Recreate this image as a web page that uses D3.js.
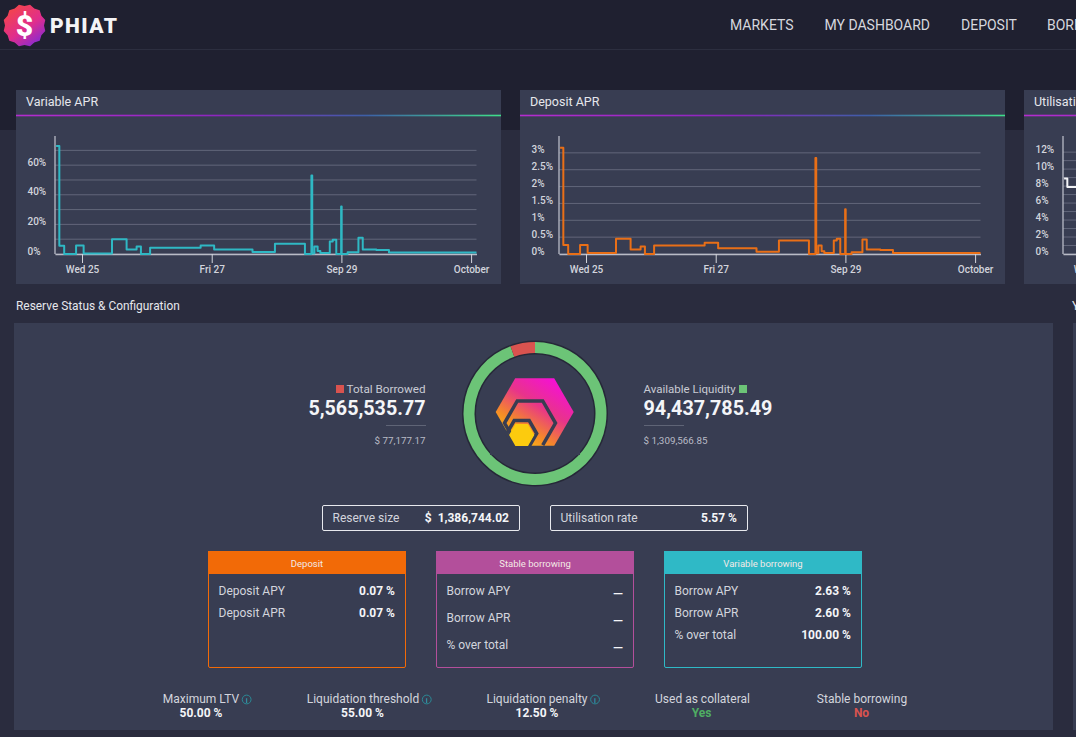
<!DOCTYPE html>
<html><head><meta charset="utf-8">
<script src="https://cdn.jsdelivr.net/npm/d3@7/dist/d3.min.js"></script>
<style>
html,body{margin:0;padding:0;background:#1f2030;overflow:hidden}
svg{display:block}
text{font-family:Roboto,"Liberation Sans",sans-serif}
</style></head><body><svg id="c" width="1076" height="737"></svg>
<script>
const navLabels = ["MARKETS","MY DASHBOARD","DEPOSIT","BORROW"];
const tickDates = ["2024-09-25","2024-09-27","2024-09-29","2024-10-01"];
const hoursFromSep25 = [-9.6,-8.4,-6.6,-2.2,0.6,11.1,16.5,20.2,21.8,25.2,43.9,48.9,63.1,71.4,82.5,84.9,85.2,86.0,87.2,88.2,91.7,92.8,94.1,95.9,96.1,98.3,102.3,103.9,108.9,113.6,146.0];
const variableApr = [73,5.6,0,5.8,0.4,10,3,5,0,4.2,5.8,3.1,1.3,7,0,53,0.3,5,2,0.6,8.5,9.6,0,32,0,1.1,11,3.1,2.7,1,1];
const depositApr = [3.15,0.27,0,0.27,0.03,0.45,0.13,0.22,0,0.25,0.33,0.17,0.07,0.4,0,2.85,0.02,0.25,0.08,0.03,0.4,0.45,0,1.33,0,0.05,0.43,0.13,0.12,0.03,0.03];
const utilHours = [-9.6,-8.4,0];
const utilisation = [8.9,7.9,7.9];
const aprTicks = [0,20,40,60], aprGrid = [0,10,20,30,40,50,60,70];
const depTicks = [0,0.5,1,1.5,2,2.5,3];
const utilTicks = [0,2,4,6,8,10,12], utilGrid = [0,1,2,3,4,5,6,7,8,9,10,11,12];
const donutValues = [94437785.49,5565535.77];
const reserveRows = [["Reserve size","$  1,386,744.02"],["Utilisation rate","5.57 %"]];
const cardTitles = ["Deposit","Stable borrowing","Variable borrowing"];
const cardLabels = [["Deposit APY","Deposit APR"],["Borrow APY","Borrow APR","% over total"],["Borrow APY","Borrow APR","% over total"]];
const cardValues = [["0.07 %","0.07 %"],["—","—","—"],["2.63 %","2.60 %","100.00 %"]];
const footLabels = ["Maximum LTV","Liquidation threshold","Liquidation penalty","Used as collateral","Stable borrowing"];
const footValues = ["50.00 %","55.00 %","12.50 %","Yes","No"];

const PANEL="#383d52", TXT="#d9dbe3", WHITE="#f4f5f8";
const svg=d3.select("#c");
const defs=svg.append("defs");
function lg(id,x1,y1,x2,y2,stops,units){
  const g=defs.append("linearGradient").attr("id",id).attr("x1",x1).attr("y1",y1).attr("x2",x2).attr("y2",y2);
  if(units)g.attr("gradientUnits",units);
  stops.forEach(s=>g.append("stop").attr("offset",s[0]).attr("stop-color",s[1]));
}
lg("bar","0","0","1","0",[[0,"#b52ccf"],[0.45,"#8a26bd"],[0.72,"#3d5fa8"],[1,"#3fe08a"]]);
lg("hex",562,376,514,450,[[0,"#f808e6"],[0.42,"#e8348a"],[0.72,"#f58a28"],[1,"#fdd207"]],"userSpaceOnUse");
lg("logo",0.2,0.1,0.8,0.95,[[0,"#f2434f"],[0.55,"#e02d8d"],[1,"#8a2bd0"]]);
const rect=(x,y,w,h,f)=>svg.append("rect").attr("x",x).attr("y",y).attr("width",w).attr("height",h).attr("fill",f);
function t(x,y,s,o={}){return svg.append("text").attr("x",x).attr("y",y).text(s)
  .attr("font-size",o.size||12).attr("fill",o.fill||TXT).attr("font-weight",o.weight||400)
  .attr("text-anchor",o.anchor||"start");}

// page background
rect(0,0,1076,737,"#1f2030");
rect(0,130,1076,607,"#2a2c3e");
rect(0,49,1076,1,"#2c2e3f");

// header
const lc=[24.5,25.5];
svg.append("path").attr("d",d3.range(0,24).map(i=>{const a=i*Math.PI/12,r=i%2?21.5:19.5;return (i?"L":"M")+(lc[0]+r*Math.cos(a))+","+(lc[1]+r*Math.sin(a));}).join("")+"Z").attr("fill","url(#logo)");
t(lc[0],lc[1]+10,"$",{size:30,weight:900,fill:"#fff",anchor:"middle"});
t(50,33,"PHIAT",{size:21,weight:900,fill:"#f4f4f6"}).attr("letter-spacing",1.4);
const navX=[730,824.5,961,1047];
navLabels.forEach((n,i)=>t(navX[i],30,n,{size:14,fill:"#d6d7de"}));

// line panels
const epoch=new Date("2024-09-25").getTime();
const hourDate=h=>new Date(epoch+h*3600000);
function linePanel(px,title,hours,vals,ymax,gridV,tickV,fmt,color,axisX){
  rect(px,90,485,194,PANEL);
  rect(px,114.7,485,1.6,"url(#bar)");
  t(px+10,106,title,{size:12.5,fill:"#e6e7ec"});
  const zero=254;
  const x=d3.scaleUtc().domain([hourDate(-10),hourDate(146)]).range([axisX,axisX+421.5]);
  const y=d3.scaleLinear().domain([0,ymax]).range([zero,zero-118]);
  const g=svg.append("g");
  g.selectAll("line.g").data(gridV).join("line").attr("x1",axisX).attr("x2",axisX+421.5)
    .attr("y1",d=>y(d)).attr("y2",d=>y(d)).attr("stroke","#62667a").attr("stroke-width",1);
  const xa=g.append("g").attr("transform",`translate(0,${zero})`).call(d3.axisBottom(x).tickValues(tickDates.map(d=>new Date(d))).tickSizeInner(9).tickSizeOuter(0).tickPadding(3).tickFormat(x.tickFormat()));
  xa.select(".domain").attr("stroke","#b9bbc6").attr("stroke-width",1.3);
  xa.selectAll("line").attr("stroke","#d4d5dc");
  xa.selectAll("text").attr("fill","#d2d4dc").attr("font-size",10).attr("font-weight",500).attr("font-family","Roboto");
  const ya=g.append("g").attr("transform",`translate(${axisX},0)`).call(d3.axisLeft(y).tickValues(tickV).tickSize(0).tickPadding(0).tickFormat(fmt));
  ya.select(".domain").attr("stroke","#b9bbc6").attr("stroke-width",1.3).attr("d",`M0,${zero}V${zero-118}`);
  ya.selectAll("text").attr("fill","#d2d4dc").attr("font-size",10).attr("font-weight",500).attr("font-family","Roboto")
    .attr("text-anchor","start").attr("x",-27.5).attr("dy","0");
  const line=d3.line().x(d=>x(hourDate(d[0]))).y(d=>y(d[1])).curve(d3.curveStepAfter);
  g.append("path").datum(hours.map((h,i)=>[h,vals[i]])).attr("d",line).attr("fill","none")
    .attr("stroke",color).attr("stroke-width",2).attr("stroke-linejoin","round");
}
linePanel(16,"Variable APR",hoursFromSep25,variableApr,79.7,aprGrid,aprTicks,d=>d+"%","#2fb8c4",55);
linePanel(520,"Deposit APR",hoursFromSep25,depositApr,3.5,depTicks,depTicks,d=>d+"%","#e96f17",559);
linePanel(1024,"Utilisation",utilHours,utilisation,13.9,utilGrid,utilTicks,d=>d+"%","#f2f3f6",1063);

// section
t(16,310,"Reserve Status & Configuration",{size:11.9,fill:"#e6e7ec"});
t(1072,310,"Y",{size:12,fill:"#e6e7ec"});
rect(14,323,1039,407,PANEL);
rect(1073,323,3,407,PANEL);

// donut
const cx=535,cy=413.5;
svg.append("circle").attr("cx",cx).attr("cy",cy).attr("r",73).attr("fill","#262838");
svg.append("circle").attr("cx",cx).attr("cy",cy).attr("r",59).attr("fill",PANEL);
const pie=d3.pie().sort(null);
const arc=d3.arc().innerRadius(60.5).outerRadius(71.5);
const dcol=["#6cc477","#d9534f"];
svg.append("g").attr("transform",`translate(${cx},${cy})`).selectAll("path").data(pie(donutValues)).join("path").attr("d",arc).attr("fill",(d,i)=>dcol[i]);

// hexagon logo
const hv=(c,r,i)=>{const a=i*Math.PI/3;return [c[0]+r*Math.cos(a),c[1]+r*Math.sin(a)];};
const hexP=(c,r)=>"M"+d3.range(6).map(i=>hv(c,r,i).join(",")).join("L")+"Z";
const openHex=(c,r)=>"M"+[1,0,5,4,3,2].map(i=>hv(c,r,i).join(",")).join("L");
svg.append("path").attr("d",hexP([534.7,412],39)).attr("fill","url(#hex)");
svg.append("path").attr("d",openHex([530,423],25.5)).attr("fill","none").attr("stroke",PANEL).attr("stroke-width",3.5);
svg.append("path").attr("d",openHex([521.7,433.5],15)).attr("fill","none").attr("stroke",PANEL).attr("stroke-width",3.5);
svg.append("path").attr("d",hexP([521.7,435],12.6)).attr("fill","#fccb0e");
rect(490,446,90,9,PANEL);

// totals
rect(336,385,8,8,"#d9534f");
t(425.5,393,"Total Borrowed",{size:11.7,anchor:"end",fill:"#c9cbd4"});
t(425.5,415,"5,565,535.77",{size:19.7,weight:700,anchor:"end",fill:WHITE});
rect(386,425,40,0.8,"#6a6e80");
t(425.5,444,"$ 77,177.17",{size:9.8,anchor:"end",fill:"#b9bbc6"});
t(643.5,393,"Available Liquidity",{size:11.5,fill:"#c9cbd4"});
rect(739,385,8,8,"#6cc477");
t(643.5,415,"94,437,785.49",{size:19.8,weight:700,fill:WHITE});
rect(644,425,40,0.8,"#6a6e80");
t(643.5,444,"$ 1,309,566.85",{size:9.8,fill:"#b9bbc6"});

// reserve boxes
[[322.5,197],[550.5,197]].forEach((b,i)=>{
  svg.append("rect").attr("x",b[0]).attr("y",505.5).attr("width",b[1]).attr("height",25).attr("rx",1.5).attr("fill","none").attr("stroke","#e8e9ee").attr("stroke-width",1);
  t(b[0]+10,522,reserveRows[i][0],{size:12,fill:"#d3d5dd"});
  t(b[0]+b[1]-10.5,522,reserveRows[i][1],{size:12,weight:700,anchor:"end",fill:WHITE}).style("white-space","pre");
});

// cards
const cardX=[208.5,436.5,664.5];
const cardCol=["#f26a07","#b34f9b","#2fb9c6"];
const cardStep=[22,27,22];
cardTitles.forEach((c,i)=>{
  const x=cardX[i];
  svg.append("rect").attr("x",x).attr("y",551.5).attr("width",197).attr("height",116).attr("rx",1.5).attr("fill","none").attr("stroke",cardCol[i]);
  rect(x-0.5,551,198,23,cardCol[i]);
  t(x+98.5,566.5,c,{size:9.5,fill:"#f3e9e6",anchor:"middle",weight:400});
  cardLabels[i].forEach((l,j)=>{
    const yy=595+j*cardStep[i];
    t(x+10,yy,l,{size:12,fill:"#d3d5dd"});
    const dash=cardValues[i][j]==="—";
    t(x+186.5,yy+(dash?2.5:0),cardValues[i][j],{size:dash?13:12,weight:700,anchor:"end",fill:WHITE});
  });
});

// footer
const footLabelCx=[201,363,537,702.5,862];
const valCx=[201,362.5,537,701.5,861.5];
const footFill=[WHITE,WHITE,WHITE,"#4fae63","#d9534f"];
footLabels.forEach((l,i)=>{
  const tx=t(footLabelCx[i],703,l,{size:12,anchor:"middle",fill:"#d3d5dd"});
  if(i<3){
    const w=tx.node().getComputedTextLength();
    const ix=footLabelCx[i]+w/2+7.5;
    svg.append("circle").attr("cx",ix).attr("cy",699.5).attr("r",4.4).attr("fill","none").attr("stroke","#2a8a96").attr("stroke-width",1);
    t(ix,702.5,"i",{size:8,anchor:"middle",fill:"#2fb9c6"});
  }
  t(valCx[i],717,footValues[i],{size:12,weight:700,anchor:"middle",fill:footFill[i]});
});
</script></body></html>
